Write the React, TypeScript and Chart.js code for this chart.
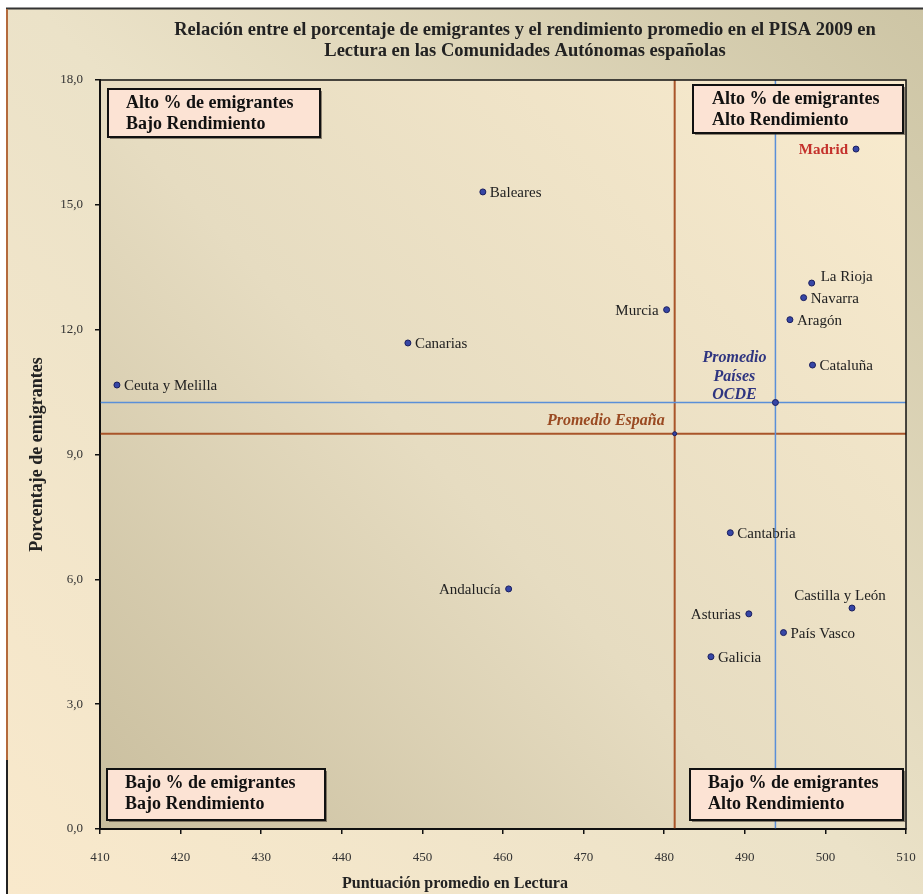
import React, { useEffect, useRef } from 'react';
import { Chart, registerables } from 'chart.js';

Chart.register(...registerables);

// ---- Data ----
const regions = ['Madrid', 'Baleares', 'La Rioja', 'Navarra', 'Aragón', 'Murcia', 'Canarias', 'Cataluña', 'Ceuta y Melilla', 'Cantabria', 'Andalucía', 'Castilla y León', 'Asturias', 'País Vasco', 'Galicia'];
const readingScores = [503.8, 457.5, 498.3, 497.3, 495.6, 480.3, 448.2, 498.4, 412.1, 488.2, 460.7, 503.3, 490.5, 494.8, 485.8];
const emigrantPct = [16.34, 15.31, 13.12, 12.77, 12.24, 12.48, 11.68, 11.15, 10.67, 7.12, 5.77, 5.31, 5.17, 4.72, 4.14];

const averageNames = ['Promedio España', 'Promedio Países OCDE'];
const averageReading = [481.3, 493.8];
const averageEmigrants = [9.5, 10.25];

const xMin = 410, xMax = 510, xStep = 10;
const yMin = 0, yMax = 18, yStep = 3;

const titleLines = ['Relación entre el porcentaje de emigrantes y el rendimiento promedio en el PISA 2009 en', 'Lectura en las Comunidades Autónomas españolas'];
const xTitle = 'Puntuación promedio en Lectura';
const yTitle = 'Porcentaje de emigrantes';
const quadrantTexts = [
  ['Alto % de emigrantes', 'Bajo Rendimiento'],
  ['Alto % de emigrantes', 'Alto Rendimiento'],
  ['Bajo % de emigrantes', 'Bajo Rendimiento'],
  ['Bajo % de emigrantes', 'Alto Rendimiento'],
];

// label placement (style only)
const labelSide: Record<string, string> = {
  'Madrid': 'left', 'Murcia': 'left', 'Andalucía': 'left', 'Asturias': 'left',
  'Castilla y León': 'above', 'La Rioja': 'rightUp',
};

const SERIF = '"Liberation Serif", "DejaVu Serif", serif';

const decorPlugin = {
  id: 'decor',
  beforeDraw(chart: any) {
    const { ctx, width, height, chartArea: ca } = chart;
    ctx.save();
    ctx.fillStyle = '#ffffff';
    ctx.fillRect(0, 0, width, height);
    const g = ctx.createLinearGradient(7, height, width, 9);
    g.addColorStop(0, '#f9e9cc');
    g.addColorStop(0.5, '#ebe2c8');
    g.addColorStop(1, '#cdc5a5');
    ctx.fillStyle = g;
    ctx.fillRect(7, 9, width - 7, height - 9);
    // frame
    ctx.strokeStyle = '#333';
    ctx.lineWidth = 2;
    ctx.beginPath(); ctx.moveTo(6, 8.5); ctx.lineTo(width, 8.5); ctx.stroke();
    ctx.strokeStyle = '#b46a3c';
    ctx.beginPath(); ctx.moveTo(7, 9); ctx.lineTo(7, 760); ctx.stroke();
    ctx.strokeStyle = '#222';
    ctx.beginPath(); ctx.moveTo(7, 760); ctx.lineTo(7, height); ctx.stroke();
    // plot area
    const pg = ctx.createLinearGradient(ca.left, ca.bottom, ca.right, ca.top);
    pg.addColorStop(0, '#c9be9e');
    pg.addColorStop(0.45, '#e6dcc1');
    pg.addColorStop(1, '#f9ebce');
    ctx.fillStyle = pg;
    ctx.fillRect(ca.left, ca.top, ca.right - ca.left, ca.bottom - ca.top);
    // title
    ctx.fillStyle = '#222';
    ctx.font = 'bold 18.5px ' + SERIF;
    ctx.textAlign = 'center';
    ctx.textBaseline = 'middle';
    ctx.fillText(titleLines[0], 525, 30);
    ctx.fillText(titleLines[1], 525, 51);
    // axis titles
    ctx.font = 'bold 16px ' + SERIF;
    ctx.fillText(xTitle, 455, 884);
    ctx.save();
    ctx.translate(37, (ca.top + ca.bottom) / 2);
    ctx.rotate(-Math.PI / 2);
    ctx.font = 'bold 18px ' + SERIF;
    ctx.fillText(yTitle, 0, 0);
    ctx.restore();
    ctx.restore();
  },
  beforeDatasetsDraw(chart: any) {
    const { ctx, chartArea: ca, scales } = chart;
    const colors = ['#a9552a', '#5a8fd8'];
    const widths = [2, 1.5];
    ctx.save();
    averageReading.forEach((v, i) => {
      const px = scales.x.getPixelForValue(v);
      const py = scales.y.getPixelForValue(averageEmigrants[i]);
      ctx.strokeStyle = colors[i];
      ctx.lineWidth = widths[i];
      ctx.beginPath();
      ctx.moveTo(px, ca.top); ctx.lineTo(px, ca.bottom);
      ctx.moveTo(ca.left, py); ctx.lineTo(ca.right, py);
      ctx.stroke();
    });
    ctx.restore();
  },
  afterDatasetsDraw(chart: any) {
    const { ctx, chartArea: ca, scales } = chart;
    ctx.save();
    // plot border
    ctx.strokeStyle = '#111';
    ctx.lineWidth = 1.5;
    ctx.strokeRect(ca.left, ca.top, ca.right - ca.left, ca.bottom - ca.top);

    // quadrant boxes
    const boxes = [
      { x: ca.left + 8, y: ca.top + 9, w: 212, h: 48, tx: 18 },
      { x: ca.right - 213, y: ca.top + 5, w: 210, h: 48, tx: 19 },
      { x: ca.left + 7, y: ca.bottom - 60, w: 218, h: 51, tx: 18 },
      { x: ca.right - 216, y: ca.bottom - 60, w: 213, h: 51, tx: 18 },
    ];
    boxes.forEach((b, i) => {
      ctx.fillStyle = 'rgba(60,50,40,0.55)';
      ctx.fillRect(b.x + 2, b.y + 2, b.w, b.h);
      ctx.fillStyle = '#fce3d4';
      ctx.fillRect(b.x, b.y, b.w, b.h);
      ctx.strokeStyle = '#111';
      ctx.lineWidth = 2;
      ctx.strokeRect(b.x, b.y, b.w, b.h);
      ctx.fillStyle = '#111';
      ctx.font = 'bold 18px ' + SERIF;
      ctx.textAlign = 'left';
      ctx.textBaseline = 'middle';
      ctx.fillText(quadrantTexts[i][0], b.x + b.tx, b.y + 14);
      ctx.fillText(quadrantTexts[i][1], b.x + b.tx, b.y + 35);
    });

    // point labels
    ctx.textBaseline = 'middle';
    regions.forEach((name, i) => {
      const px = scales.x.getPixelForValue(readingScores[i]);
      const py = scales.y.getPixelForValue(emigrantPct[i]);
      const side = labelSide[name] || 'right';
      if (name === 'Madrid') {
        ctx.fillStyle = '#c4302b';
        ctx.font = 'bold 15px ' + SERIF;
      } else {
        ctx.fillStyle = '#222';
        ctx.font = '15px ' + SERIF;
      }
      if (side === 'left') {
        ctx.textAlign = 'right';
        ctx.fillText(name, px - 8, py + 1);
      } else if (side === 'above') {
        ctx.textAlign = 'center';
        ctx.fillText(name, px - 12, py - 12);
      } else if (side === 'rightUp') {
        ctx.textAlign = 'left';
        ctx.fillText(name, px + 9, py - 6);
      } else {
        ctx.textAlign = 'left';
        ctx.fillText(name, px + 7, py + 1);
      }
    });

    // average labels
    const sx = scales.x.getPixelForValue(averageReading[0]);
    const sy = scales.y.getPixelForValue(averageEmigrants[0]);
    ctx.font = 'italic bold 16px ' + SERIF;
    ctx.fillStyle = '#9a4a22';
    ctx.textAlign = 'right';
    ctx.fillText(averageNames[0], sx - 10, sy - 13);

    const ox = scales.x.getPixelForValue(averageReading[1]);
    const oy = scales.y.getPixelForValue(averageEmigrants[1]);
    ctx.fillStyle = '#2f3580';
    ctx.textAlign = 'center';
    const parts = ['Promedio', 'Países', 'OCDE'];
    ctx.fillText(parts[0], ox - 41, oy - 45);
    ctx.fillText(parts[1], ox - 41, oy - 26);
    ctx.fillText(parts[2], ox - 41, oy - 8);
    ctx.restore();
  },
};

export default function App() {
  const ref = useRef<HTMLCanvasElement | null>(null);
  useEffect(() => {
    if (!ref.current) return;
    const chart = new Chart(ref.current, {
      type: 'scatter',
      data: {
        datasets: [
          {
            label: 'Comunidades',
            data: readingScores.map((x, i) => ({ x, y: emigrantPct[i] })),
            pointRadius: 3,
            pointBackgroundColor: '#3646a6',
            pointBorderColor: '#1b1f5e',
            pointBorderWidth: 1,
          },
          {
            label: 'Promedios',
            data: averageReading.map((x, i) => ({ x, y: averageEmigrants[i] })),
            pointRadius: [2, 3],
            pointBackgroundColor: '#3646a6',
            pointBorderColor: '#1b1f5e',
            pointBorderWidth: 1,
          },
        ],
      },
      options: {
        responsive: false,
        animation: false,
        layout: { padding: { left: 0, right: 17, top: 80, bottom: 0 } },
        plugins: {
          legend: { display: false },
          title: { display: false },
          tooltip: { enabled: false },
        },
        scales: {
          x: {
            type: 'linear',
            min: xMin,
            max: xMax,
            afterFit(scale: any) {
              scale.height = 65;
              scale.paddingRight = 0;
              scale.paddingLeft = 0;
            },
            ticks: {
              stepSize: xStep,
              color: '#333',
              font: { family: SERIF, size: 13 },
              padding: 16,
            },
            grid: { drawOnChartArea: false, color: '#111', tickLength: 5, lineWidth: 1.5 },
            border: { display: true, color: '#111', width: 2 },
          },
          y: {
            type: 'linear',
            min: yMin,
            max: yMax,
            afterFit(scale: any) {
              scale.width = 100;
              scale.paddingTop = 0;
              scale.paddingBottom = 0;
            },
            ticks: {
              stepSize: yStep,
              color: '#333',
              font: { family: SERIF, size: 13 },
              padding: 12,
              callback: (v: any) => Number(v).toFixed(1).replace('.', ','),
            },
            grid: { drawOnChartArea: false, color: '#111', tickLength: 5, lineWidth: 1.5 },
            border: { display: true, color: '#111', width: 2 },
          },
        },
      },
      plugins: [decorPlugin],
    });
    return () => chart.destroy();
  }, []);
  return (
    <div style={{ position: 'absolute', left: 0, top: 0, width: 923, height: 894 }}>
      <canvas ref={ref} width={923} height={894} style={{ display: 'block' }} />
    </div>
  );
}
